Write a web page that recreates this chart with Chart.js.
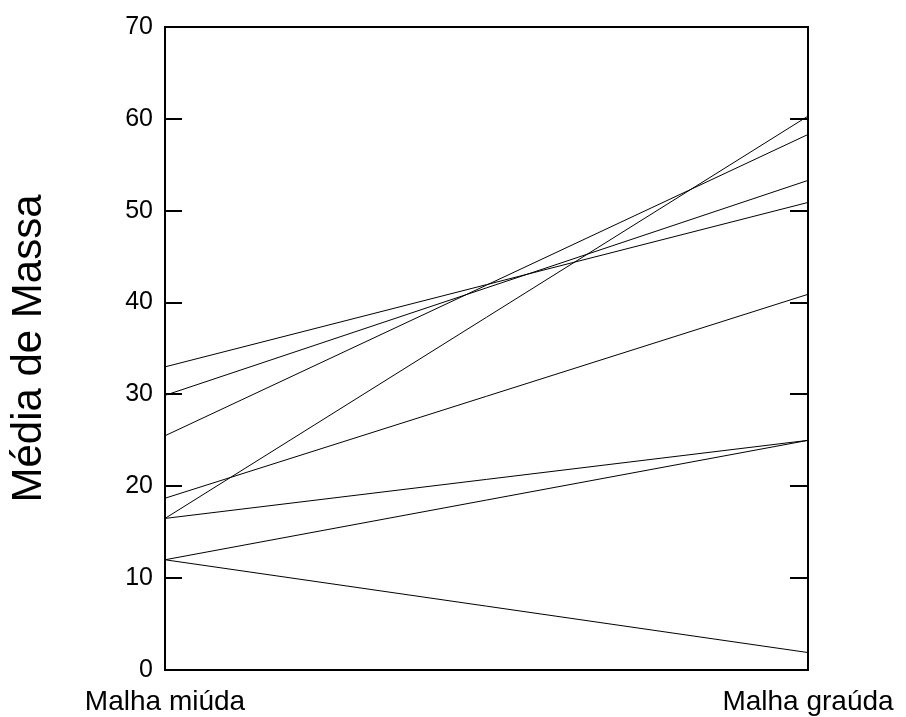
<!DOCTYPE html>
<html>
<head>
<meta charset="utf-8">
<script src="https://cdn.jsdelivr.net/npm/chart.js@4"></script>
<style>
  html, body { margin: 0; padding: 0; background: #fff; }
  #wrap { width: 906px; height: 717px; }
</style>
</head>
<body>
<div id="wrap"><canvas id="massChart"></canvas></div>
<script>
const ctx = document.getElementById("massChart").getContext("2d");

// categories (the two mesh sizes)
const categories = ["Malha miúda", "Malha graúda"];

// mean mass at each mesh, one small array per line
const malhaMiuda = [33, 29.9, 25.5, 18.7, 16.5, 16.5, 12, 12];
const malhaGrauda = [50.9, 53.3, 58.3, 40.9, 60.3, 25, 25, 1.9];

// y axis ticks
const yMin = 0;
const yMax = 70;
const yStep = 10;

const datasets = malhaMiuda.map((v, i) => ({
  label: "linha " + (i + 1),
  data: [v, malhaGrauda[i]],
  borderColor: "#000",
  borderWidth: 1,
  pointRadius: 0,
  tension: 0,
  fill: false,
}));

// frame on top/right + inward tick marks on both sides
const framePlugin = {
  id: "frame",
  afterDraw(chart) {
    const { ctx, chartArea: a, scales } = chart;
    const y = scales.y;
    ctx.save();
    ctx.strokeStyle = "#000";
    ctx.lineWidth = 2;
    ctx.beginPath();
    ctx.moveTo(a.left, a.top);
    ctx.lineTo(a.right, a.top);
    ctx.lineTo(a.right, a.bottom);
    ctx.stroke();
    for (let v = yMin + yStep; v < yMax; v += yStep) {
      const py = Math.round(y.getPixelForValue(v));
      ctx.beginPath();
      ctx.moveTo(a.left, py);
      ctx.lineTo(a.left + 17, py);
      ctx.moveTo(a.right, py);
      ctx.lineTo(a.right - 18, py);
      ctx.stroke();
    }
    ctx.restore();
  },
};

new Chart(ctx, {
  type: "line",
  data: { labels: categories, datasets: datasets },
  options: {
    responsive: true,
    maintainAspectRatio: false,
    animation: false,
    layout: { padding: { left: 0, right: 98, top: 26, bottom: 0 } },
    plugins: { legend: { display: false }, tooltip: { enabled: false } },
    scales: {
      x: {
        type: "category",
        offset: false,
        grid: { display: false, drawTicks: false },
        border: { display: true, color: "#000", width: 2 },
        ticks: {
          color: "#000",
          padding: 15,
          maxRotation: 0,
          autoSkip: false,
          font: { family: "Liberation Sans", size: 28 },
        },
        afterFit: (s) => {
          s.height = 47;
          s.paddingLeft = 0;
          s.paddingRight = 0;
        },
      },
      y: {
        min: yMin,
        max: yMax,
        grid: { drawOnChartArea: false, drawTicks: false },
        border: { display: true, color: "#000", width: 2 },
        ticks: {
          stepSize: yStep,
          color: "#000",
          padding: 12,
          font: { family: "Liberation Sans", size: 25 },
        },
        title: {
          display: true,
          text: "Média de Massa",
          color: "#000",
          padding: { top: 4, bottom: 0 },
          font: { family: "Liberation Sans", size: 42 },
        },
        afterFit: (s) => { s.width = 165; },
      },
    },
  },
  plugins: [framePlugin],
});
</script>
</body>
</html>
